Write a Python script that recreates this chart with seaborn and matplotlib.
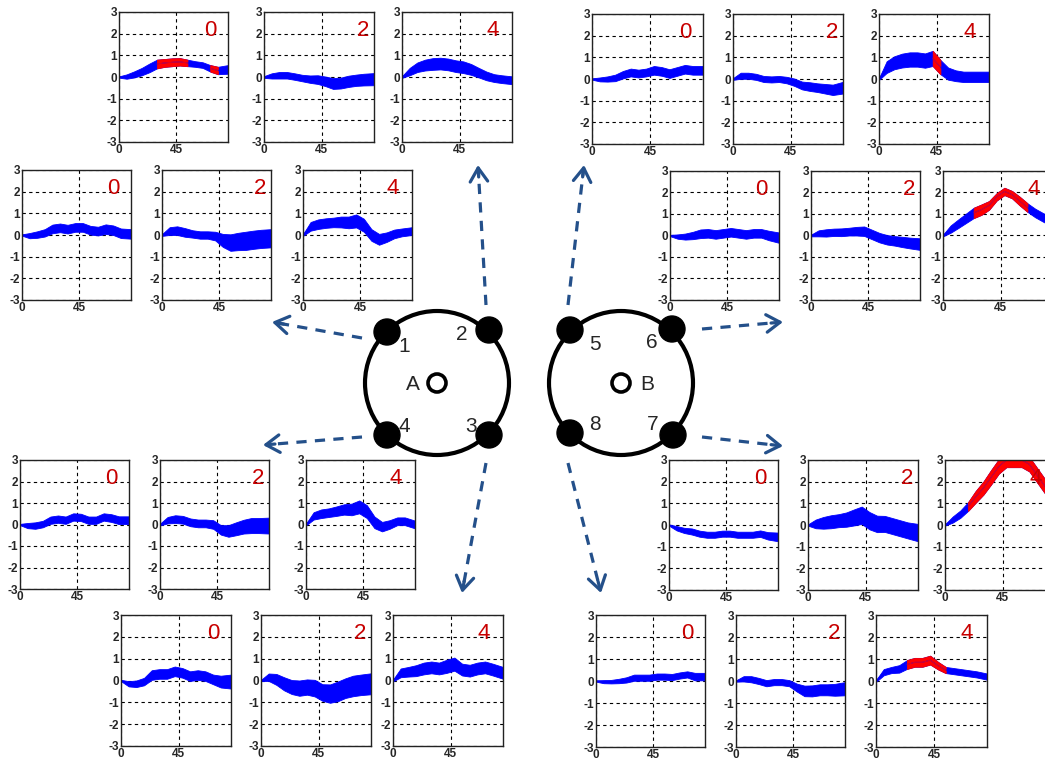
import numpy as np
import pandas as pd
import matplotlib
matplotlib.use("Agg")
import matplotlib.pyplot as plt
import seaborn as sns
from matplotlib.patches import Circle

# ---------------- data ----------------
X = [0, 6, 12, 18, 24, 30, 36, 42, 48, 54, 60, 66, 72, 78, 86]
DELAYS = ["0", "2", "4"]

# centre of band, per electrode, for delays 0 / 2 / 4
E1_C = [[0, -0.03, 0.02, 0.1, 0.28, 0.33, 0.27, 0.35, 0.35, 0.22, 0.18, 0.27, 0.22, 0.08, 0.05],
        [0, 0.18, 0.2, 0.12, 0.05, 0.0, 0.0, -0.05, -0.25, -0.35, -0.3, -0.27, -0.22, -0.18, -0.15],
        [0, 0.4, 0.5, 0.55, 0.58, 0.6, 0.58, 0.65, 0.45, 0.0, -0.2, -0.1, 0.05, 0.12, 0.18]]
E1_H = [[0.03, 0.12, 0.15, 0.17, 0.2, 0.2, 0.2, 0.2, 0.2, 0.2, 0.2, 0.22, 0.22, 0.22, 0.22],
        [0.04, 0.18, 0.2, 0.2, 0.17, 0.17, 0.17, 0.2, 0.3, 0.38, 0.4, 0.42, 0.42, 0.42, 0.42],
        [0.04, 0.2, 0.22, 0.22, 0.22, 0.25, 0.27, 0.3, 0.3, 0.27, 0.25, 0.22, 0.2, 0.18, 0.18]]

E2_C = [[0, 0.02, 0.12, 0.25, 0.42, 0.6, 0.65, 0.68, 0.7, 0.65, 0.6, 0.55, 0.4, 0.3, 0.35],
        [0, 0.05, 0.08, 0.08, 0.02, -0.05, -0.1, -0.12, -0.2, -0.3, -0.28, -0.2, -0.15, -0.12, -0.1],
        [0, 0.25, 0.45, 0.55, 0.6, 0.62, 0.58, 0.5, 0.45, 0.35, 0.2, 0.05, -0.05, -0.1, -0.15]]
E2_H = [[0.03, 0.1, 0.14, 0.17, 0.2, 0.2, 0.18, 0.18, 0.17, 0.15, 0.13, 0.13, 0.15, 0.17, 0.2],
        [0.04, 0.12, 0.15, 0.15, 0.15, 0.15, 0.17, 0.2, 0.22, 0.25, 0.25, 0.26, 0.26, 0.27, 0.28],
        [0.04, 0.17, 0.22, 0.25, 0.27, 0.27, 0.27, 0.27, 0.27, 0.25, 0.22, 0.2, 0.18, 0.18, 0.18]]

E3_C = [[0, -0.15, -0.15, -0.05, 0.25, 0.3, 0.3, 0.42, 0.35, 0.2, 0.25, 0.2, 0.05, -0.05, -0.05],
        [0, 0.15, 0.05, -0.15, -0.3, -0.35, -0.3, -0.35, -0.55, -0.6, -0.5, -0.35, -0.25, -0.2, -0.15],
        [0, 0.35, 0.4, 0.45, 0.55, 0.6, 0.55, 0.65, 0.75, 0.5, 0.45, 0.55, 0.6, 0.5, 0.35]]
E3_H = [[0.03, 0.12, 0.15, 0.17, 0.22, 0.22, 0.22, 0.22, 0.22, 0.22, 0.22, 0.22, 0.22, 0.27, 0.32],
        [0.03, 0.17, 0.25, 0.3, 0.32, 0.35, 0.35, 0.38, 0.38, 0.42, 0.45, 0.45, 0.47, 0.47, 0.48],
        [0.04, 0.2, 0.22, 0.25, 0.27, 0.27, 0.27, 0.3, 0.3, 0.27, 0.27, 0.27, 0.27, 0.27, 0.27]]

E4_C = [[0, -0.05, -0.05, 0.02, 0.2, 0.25, 0.2, 0.35, 0.33, 0.2, 0.2, 0.35, 0.3, 0.2, 0.2],
        [0, 0.2, 0.25, 0.22, 0.1, 0.05, 0.05, 0.0, -0.25, -0.3, -0.2, -0.1, -0.05, -0.05, -0.05],
        [0, 0.4, 0.5, 0.55, 0.62, 0.7, 0.7, 0.82, 0.6, 0.1, -0.1, 0.0, 0.15, 0.15, 0.0]]
E4_H = [[0.03, 0.12, 0.15, 0.15, 0.17, 0.17, 0.17, 0.17, 0.17, 0.17, 0.17, 0.17, 0.18, 0.18, 0.18],
        [0.04, 0.15, 0.18, 0.18, 0.18, 0.18, 0.18, 0.2, 0.22, 0.27, 0.3, 0.32, 0.35, 0.35, 0.37],
        [0.04, 0.17, 0.2, 0.2, 0.22, 0.24, 0.27, 0.3, 0.3, 0.27, 0.22, 0.2, 0.18, 0.18, 0.18]]

E5_C = [[0, -0.02, 0.0, 0.05, 0.2, 0.3, 0.25, 0.3, 0.4, 0.35, 0.25, 0.35, 0.45, 0.4, 0.4],
        [0, 0.15, 0.15, 0.1, 0.0, -0.02, 0.0, -0.05, -0.15, -0.3, -0.35, -0.4, -0.45, -0.5, -0.4],
        [0, 0.55, 0.75, 0.85, 0.9, 0.9, 0.85, 0.95, 0.55, 0.25, 0.15, 0.1, 0.1, 0.1, 0.1]]
E5_H = [[0.03, 0.09, 0.12, 0.15, 0.17, 0.18, 0.18, 0.18, 0.2, 0.2, 0.2, 0.2, 0.2, 0.2, 0.2],
        [0.04, 0.14, 0.14, 0.14, 0.14, 0.14, 0.14, 0.15, 0.17, 0.18, 0.2, 0.2, 0.22, 0.24, 0.27],
        [0.04, 0.27, 0.3, 0.32, 0.33, 0.33, 0.33, 0.35, 0.33, 0.28, 0.25, 0.24, 0.24, 0.24, 0.24]]

E6_C = [[0, -0.05, -0.05, 0.0, 0.08, 0.1, 0.05, 0.1, 0.15, 0.1, 0.05, 0.1, 0.1, 0.0, -0.1],
        [0, 0.1, 0.12, 0.15, 0.15, 0.18, 0.2, 0.2, 0.05, -0.1, -0.2, -0.25, -0.3, -0.35, -0.4],
        [0, 0.3, 0.55, 0.8, 1.05, 1.2, 1.4, 1.8, 2.05, 1.9, 1.6, 1.3, 1.05, 0.85, 0.6]]
E6_H = [[0.03, 0.1, 0.14, 0.17, 0.2, 0.2, 0.2, 0.2, 0.2, 0.2, 0.2, 0.2, 0.2, 0.22, 0.24],
        [0.04, 0.14, 0.17, 0.17, 0.18, 0.18, 0.2, 0.22, 0.22, 0.22, 0.22, 0.22, 0.24, 0.25, 0.27],
        [0.04, 0.17, 0.2, 0.22, 0.24, 0.24, 0.2, 0.17, 0.17, 0.17, 0.2, 0.2, 0.2, 0.2, 0.2]]

E7_C = [[0, -0.15, -0.25, -0.3, -0.4, -0.45, -0.45, -0.4, -0.4, -0.45, -0.45, -0.45, -0.4, -0.5, -0.55],
        [0, 0.05, 0.1, 0.15, 0.2, 0.25, 0.35, 0.45, 0.2, 0.05, 0.05, -0.05, -0.15, -0.25, -0.35],
        [0, 0.25, 0.5, 0.85, 1.3, 1.7, 2.2, 2.7, 3.0, 3.0, 3.0, 2.8, 2.3, 1.8, 1.3]]
E7_H = [[0.03, 0.1, 0.12, 0.14, 0.14, 0.14, 0.14, 0.14, 0.14, 0.14, 0.14, 0.14, 0.15, 0.17, 0.2],
        [0.03, 0.2, 0.27, 0.3, 0.3, 0.33, 0.37, 0.4, 0.4, 0.38, 0.37, 0.37, 0.37, 0.37, 0.4],
        [0.03, 0.14, 0.17, 0.2, 0.27, 0.3, 0.33, 0.33, 0.33, 0.33, 0.33, 0.33, 0.33, 0.33, 0.33]]

E8_C = [[0, -0.03, -0.03, 0.0, 0.05, 0.15, 0.15, 0.15, 0.2, 0.2, 0.18, 0.25, 0.3, 0.2, 0.2],
        [0, 0.1, 0.08, 0.0, -0.1, -0.05, -0.05, -0.1, -0.3, -0.45, -0.45, -0.4, -0.4, -0.4, -0.35],
        [0, 0.4, 0.5, 0.55, 0.75, 0.85, 0.85, 0.95, 0.7, 0.5, 0.45, 0.4, 0.35, 0.3, 0.2]]
E8_H = [[0.03, 0.07, 0.08, 0.1, 0.12, 0.14, 0.14, 0.14, 0.14, 0.14, 0.14, 0.14, 0.14, 0.17, 0.17],
        [0.03, 0.12, 0.14, 0.14, 0.14, 0.14, 0.14, 0.14, 0.18, 0.24, 0.25, 0.25, 0.25, 0.27, 0.3],
        [0.04, 0.14, 0.14, 0.17, 0.2, 0.2, 0.2, 0.2, 0.17, 0.14, 0.14, 0.14, 0.14, 0.14, 0.14]]

# significant (red) spans in x, per electrode and delay
E1_RED = [[], [], []]
E2_RED = [[(30, 54), (72, 78)], [], []]
E3_RED = [[], [], []]
E4_RED = [[], [], []]
E5_RED = [[], [], [(42, 48)]]
E6_RED = [[], [], [(24, 66)]]
E7_RED = [[], [], [(18, 78)]]
E8_RED = [[], [], [(24, 54)]]

ELECTRODES = ["1", "2", "3", "4", "5", "6", "7", "8"]
CENTERS = [E1_C, E2_C, E3_C, E4_C, E5_C, E6_C, E7_C, E8_C]
HALVES = [E1_H, E2_H, E3_H, E4_H, E5_H, E6_H, E7_H, E8_H]
REDS = [E1_RED, E2_RED, E3_RED, E4_RED, E5_RED, E6_RED, E7_RED, E8_RED]

# ---------------- layout (pixels) ----------------
W, H = 1045, 761
# (top, bottom, lefts, rights)
BOXES = {
    "1": (170, 300, [22, 162, 303], [131, 271, 412]),
    "2": (12, 142, [119, 264, 402], [228, 374, 512]),
    "3": (615, 746, [121, 261, 393], [231, 371, 503]),
    "4": (460, 589, [20, 160, 306], [129, 269, 415]),
    "5": (14, 144, [592, 733, 879], [703, 843, 989]),
    "6": (171, 300, [670, 811, 943], [779, 920, 1053]),
    "7": (460, 590, [669, 808, 945], [778, 918, 1055]),
    "8": (615, 747, [596, 736, 876], [705, 845, 987]),
}
LABEL_XPOS = [0.84, 0.9, 0.82]

BLUE = "#0000ff"
RED = "#ff0000"
ARROW = "#24508a"

sns.set_style("white")
plt.rcParams["font.family"] = ["Liberation Sans", "DejaVu Sans"]

fig = plt.figure(figsize=(W / 100, H / 100), dpi=100)

# overlay for schematic
ov = fig.add_axes([0, 0, 1, 1])
ov.set_xlim(0, W)
ov.set_ylim(H, 0)
ov.axis("off")

for cx in (437, 621):
    ov.add_patch(Circle((cx, 383), 72, fill=False, lw=3.0, ec="black"))
    ov.add_patch(Circle((cx, 383), 9, fill=False, lw=2.6, ec="black"))
ov.text(413, 385, "A", fontsize=15, ha="center", va="center")
ov.text(647, 385, "B", fontsize=15, ha="center", va="center")

ELEC_POS = {"1": (387, 332), "2": (489, 330), "3": (489, 435), "4": (387, 435),
            "5": (570, 330), "6": (672, 329), "7": (673, 435), "8": (570, 433)}
ELEC_LAB = {"1": (404, 346), "2": (462, 335), "3": (471, 426), "4": (404, 426),
            "5": (595, 344), "6": (652, 342), "7": (653, 425), "8": (595, 425)}
for k in ELECTRODES:
    ov.add_patch(Circle(ELEC_POS[k], 13, fc="black", ec="black"))
    ov.text(*ELEC_LAB[k], k, fontsize=15, ha="center", va="center")

ARROWS = {"1": ((362, 338), (272, 322)), "2": ((486, 305), (478, 165)),
          "3": ((486, 463), (462, 593)), "4": ((362, 437), (263, 445)),
          "5": ((568, 305), (584, 165)), "6": ((702, 329), (783, 322)),
          "7": ((702, 437), (783, 446)), "8": ((568, 463), (601, 593))}
for k, (t, p) in ARROWS.items():
    t = np.array(t, float); p = np.array(p, float)
    d = (p - t) / np.hypot(*(p - t))
    ov.plot([t[0], p[0] - 3 * d[0]], [t[1], p[1] - 3 * d[1]], color=ARROW, lw=2.3,
            dashes=(3.2, 2.6), solid_capstyle="butt", dash_capstyle="butt")
    ov.annotate("", xy=tuple(p), xytext=tuple(p - 12 * d),
                arrowprops=dict(arrowstyle="->,head_length=0.7,head_width=0.45",
                                color=ARROW, lw=2.3, mutation_scale=14,
                                shrinkA=0, shrinkB=0))


def band(ax, xs, c, h, color):
    lo = [ci - hi for ci, hi in zip(c, h)]
    up = [ci + hi for ci, hi in zip(c, h)]
    df = pd.DataFrame({"x": list(xs) * 2, "y": lo + up})
    sns.lineplot(data=df, x="x", y="y", ax=ax, errorbar=("pi", 100), estimator="mean",
                 color=color, lw=0.6, legend=False,
                 err_kws=dict(alpha=1, lw=0.6, edgecolor=color, facecolor=color))


for ei, k in enumerate(ELECTRODES):
    top, bot, lefts, rights = BOXES[k]
    for j in range(3):
        l, r = lefts[j], rights[j]
        ax = fig.add_axes([l / W, 1 - bot / H, (r - l) / W, (bot - top) / H])
        ax.set_facecolor("white")
        c = CENTERS[ei][j]
        h = HALVES[ei][j]
        band(ax, X, c, h, BLUE)
        for (s, e) in REDS[ei][j]:
            idx = [i for i, xv in enumerate(X) if s <= xv <= e]
            band(ax, [X[i] for i in idx], [c[i] for i in idx], [h[i] for i in idx], RED)
        ax.set_xlim(0, 86)
        ax.set_ylim(-3, 3)
        ax.set_xticks([0, 45])
        ax.set_xticklabels(["0", "45"])
        ax.set_yticks([-3, -2, -1, 0, 1, 2, 3])
        ax.set_yticklabels(["-3", "-2", "-1", "0", "1", "2", "3"])
        ax.set_xlabel("")
        ax.set_ylabel("")
        ax.grid(True, color="black", lw=0.8, linestyle=(0, (3, 3)))
        ax.set_axisbelow(True)
        ax.tick_params(length=0, pad=1.5, labelsize=8.5)
        for lab in ax.get_xticklabels() + ax.get_yticklabels():
            lab.set_fontweight("bold")
        for sp in ax.spines.values():
            sp.set_visible(True)
            sp.set_color("#222222")
            sp.set_linewidth(1.0)
        ax.text(LABEL_XPOS[j], 0.86, DELAYS[j], transform=ax.transAxes, color="#c80000",
                fontsize=16, ha="center", va="center")

fig.savefig("out.png", dpi=100)
